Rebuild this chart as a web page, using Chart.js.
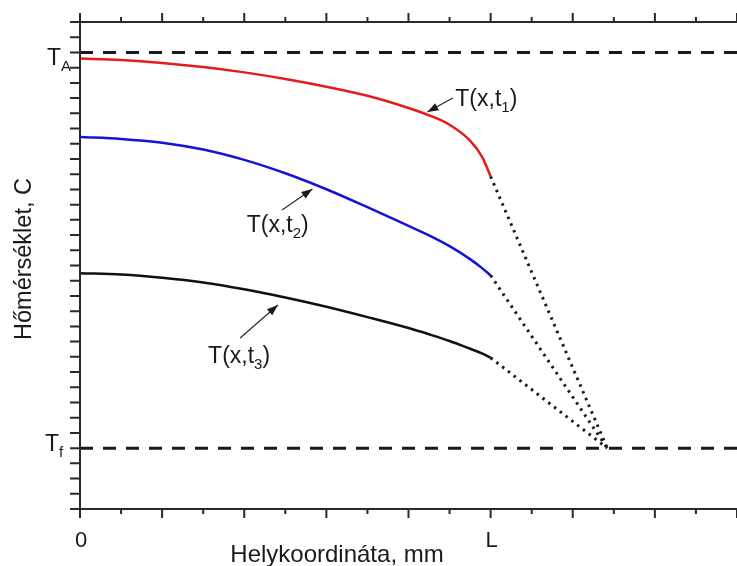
<!DOCTYPE html>
<html>
<head>
<meta charset="utf-8">
<script src="https://cdn.jsdelivr.net/npm/chart.js@4/dist/chart.umd.min.js"></script>
<style>
  html, body { margin: 0; padding: 0; background: #fff; }
  #wrap { width: 737px; height: 566px; position: relative; }
</style>
</head>
<body>
<div id="wrap"><canvas id="chart"></canvas></div>
<script>
// Helykoordináta (x) — L = 5 osztás
const xPos = [0, 0.5, 1, 1.5, 2, 2.5, 3, 3.5, 4, 4.25, 4.5, 4.75, 4.9, 5];
// hőmérsékleti profilok
const tempT1 = [29.60, 29.50, 29.31, 29.04, 28.69, 28.26, 27.75, 27.15, 26.35, 25.87, 25.25, 24.20, 23.10, 21.85];
const tempT2 = [24.44, 24.32, 24.07, 23.62, 22.94, 22.06, 21.01, 19.83, 18.60, 17.98, 17.27, 16.42, 15.81, 15.35];
const tempT3 = [15.49, 15.41, 15.20, 14.89, 14.44, 13.90, 13.29, 12.61, 11.89, 11.48, 11.04, 10.53, 10.21, 9.94];
// extrapolált (pontozott) szakaszok vége
const xMeet = 6.42;
// szintek
const levelTA = 30;
const levelTf = 4;
// tengelyek
const xMin = 0, xMax = 8;
const yMin = 0, yMax = 32;
const xLabelValues = [0, 5];
const xLabelTexts = ['0', 'L'];

const ink = '#1a1a1a';
const font = 'Liberation Sans, Arial, sans-serif';

function toPoints(xs, ys) {
    return xs.map((x, i) => ({ x: x, y: ys[i] }));
}

function curve(data, color) {
    return {
        data: data,
        borderColor: color,
        borderWidth: 2.5,
        pointRadius: 0,
        cubicInterpolationMode: 'monotone',
        fill: false
    };
}

function dotted(yStart) {
    return {
        data: [{ x: xPos[xPos.length - 1], y: yStart }, { x: xMeet, y: levelTf }],
        borderColor: ink,
        borderWidth: 3,
        borderDash: [2.5, 4.8],
        pointRadius: 0,
        fill: false
    };
}

function level(y) {
    return {
        data: [{ x: xMin, y: y }, { x: xMax, y: y }],
        borderColor: ink,
        borderWidth: 3,
        borderDash: [13, 10],
        pointRadius: 0,
        fill: false
    };
}

// feliratok T(x,t_i) - szöveg és nyíl adat-koordinátákban
const labels = [
    { sub: '1', tx: 4.57, ty: 26.5, ax: 4.54, ay: 27.0, bx: 4.23, by: 26.08 },
    { sub: '2', tx: 2.03, ty: 18.2, ax: 2.46, ay: 19.64, bx: 2.83, by: 21.03 },
    { sub: '3', tx: 1.56, ty: 9.59, ax: 1.95, ay: 11.24, bx: 2.41, by: 13.4 }
];

function drawT(ctx, x, y, sub, close) {
    ctx.font = '23px ' + font;
    ctx.textAlign = 'left';
    ctx.textBaseline = 'alphabetic';
    const main = close ? 'T(x,t' : 'T';
    ctx.fillText(main, x, y);
    let w = ctx.measureText(main).width;
    ctx.font = '15px ' + font;
    ctx.fillText(sub, x + w, y + 6);
    w += ctx.measureText(sub).width;
    if (close) {
        ctx.font = '23px ' + font;
        ctx.fillText(')', x + w, y);
    }
}

function arrow(ctx, x1, y1, x2, y2) {
    ctx.beginPath();
    ctx.moveTo(x1, y1);
    ctx.lineTo(x2, y2);
    ctx.lineWidth = 1.2;
    ctx.stroke();
    const a = Math.atan2(y2 - y1, x2 - x1);
    const len = 11, half = 4;
    ctx.beginPath();
    ctx.moveTo(x2, y2);
    ctx.lineTo(x2 - len * Math.cos(a) + half * Math.sin(a), y2 - len * Math.sin(a) - half * Math.cos(a));
    ctx.lineTo(x2 - len * Math.cos(a) - half * Math.sin(a), y2 - len * Math.sin(a) + half * Math.cos(a));
    ctx.closePath();
    ctx.fill();
}

const framePlugin = {
    id: 'frame',
    afterDraw(chart) {
        const ctx = chart.ctx;
        const xs = chart.scales.x, ys = chart.scales.y;
        const area = chart.chartArea;
        ctx.save();
        ctx.strokeStyle = '#2a2a2a';
        ctx.fillStyle = ink;
        ctx.lineWidth = 2;
        ctx.lineCap = 'butt';

        // tengelyvonalak
        ctx.beginPath();
        ctx.moveTo(area.left, area.top);
        ctx.lineTo(area.right, area.top);
        ctx.moveTo(area.left, area.bottom);
        ctx.lineTo(area.right, area.bottom);
        ctx.moveTo(area.left, area.top - 1);
        ctx.lineTo(area.left, area.bottom + 1);
        ctx.stroke();

        // x osztások (alul és felül)
        ctx.beginPath();
        for (let v = xMin; v <= xMax + 1e-9; v += 0.5) {
            const px = xs.getPixelForValue(v);
            const len = Math.abs(v - Math.round(v)) < 1e-6 ? 9 : 5;
            ctx.moveTo(px, area.bottom);
            ctx.lineTo(px, area.bottom + len);
            ctx.moveTo(px, area.top);
            ctx.lineTo(px, area.top - len);
        }
        // y osztások
        for (let v = yMin; v <= yMax; v++) {
            const py = ys.getPixelForValue(v);
            ctx.moveTo(area.left, py);
            ctx.lineTo(area.left - 10, py);
        }
        ctx.stroke();

        // x címkék
        ctx.font = '22px ' + font;
        ctx.textAlign = 'center';
        ctx.textBaseline = 'alphabetic';
        xLabelValues.forEach((v, i) => {
            ctx.fillText(xLabelTexts[i], xs.getPixelForValue(v) + 1, 547);
        });

        // tengelycímek
        ctx.font = '24px ' + font;
        ctx.fillText('Helykoordináta, mm', 337, 562);
        ctx.save();
        ctx.translate(31, 259);
        ctx.rotate(-Math.PI / 2);
        ctx.font = '23.5px ' + font;
        ctx.fillText('Hőmérséklet, C', 0, 0);
        ctx.restore();

        // T_A és T_f
        drawT(ctx, 47, ys.getPixelForValue(levelTA) + 13, 'A', false);
        drawT(ctx, 45, ys.getPixelForValue(levelTf) + 3, 'f', false);

        // görbe feliratok nyíllal
        labels.forEach(l => {
            drawT(ctx, xs.getPixelForValue(l.tx), ys.getPixelForValue(l.ty), l.sub, true);
            arrow(ctx, xs.getPixelForValue(l.ax), ys.getPixelForValue(l.ay),
                  xs.getPixelForValue(l.bx), ys.getPixelForValue(l.by));
        });
        ctx.restore();
    }
};

document.addEventListener('DOMContentLoaded', function() {
    const n = xPos.length - 1;
    new Chart(document.getElementById('chart'), {
        type: 'line',
        data: {
            datasets: [
                level(levelTA),
                level(levelTf),
                dotted(tempT1[n]),
                dotted(tempT2[n]),
                dotted(tempT3[n]),
                curve(toPoints(xPos, tempT1), 'rgb(228, 28, 28)'),
                curve(toPoints(xPos, tempT2), 'rgb(20, 20, 215)'),
                curve(toPoints(xPos, tempT3), '#111')
            ]
        },
        options: {
            responsive: true,
            maintainAspectRatio: false,
            animation: false,
            layout: { padding: { left: 80, top: 22, right: 0, bottom: 57 } },
            plugins: { legend: { display: false }, tooltip: { enabled: false } },
            scales: {
                x: { type: 'linear', min: xMin, max: xMax, display: false },
                y: { type: 'linear', min: yMin, max: yMax, display: false }
            }
        },
        plugins: [framePlugin]
    });
});
</script>
</body>
</html>
